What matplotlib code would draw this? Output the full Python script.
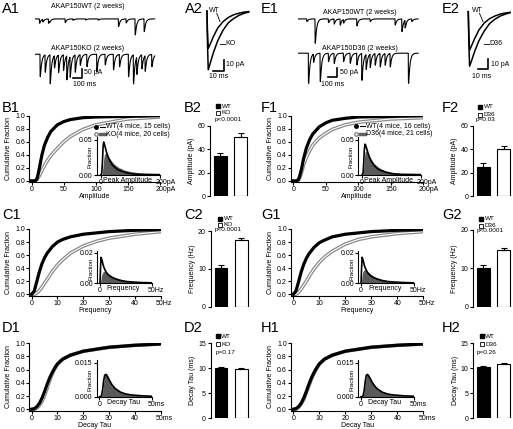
import numpy as np
import matplotlib
matplotlib.use("Agg")
import matplotlib.pyplot as plt
from matplotlib.transforms import ScaledTranslation

plt.rcParams["font.family"] = ["Liberation Sans", "DejaVu Sans"]
plt.rcParams["font.size"] = 5
plt.rcParams["axes.linewidth"] = 0.8

# ---------------- data ----------------
# A1 / E1 example sweeps: (event time ms, amplitude pA)
a1_wt_events = [(48, 25), (85, 15), (148, 25), (160, 8), (333, 21), (420, 8), (560, 6), (700, 7),
                (925, 44), (1010, 23), (1110, 92), (1210, 73)]
a1_ko_events = [(55, 129), (111, 100), (166, 167), (214, 71), (259, 100), (314, 90), (351, 138),
                (388, 119), (444, 100), (500, 61), (574, 71), (684, 100), (777, 61), (869, 90),
                (936, 71), (1036, 129), (1091, 167), (1128, 100), (1184, 81), (1221, 90), (1295, 71)]
e1_wt_events = [(93, 15), (185, 140), (333, 21), (396, 29), (463, 35), (500, 21), (648, 40),
                (796, 15), (1073, 35), (1148, 73), (1184, 44), (1258, 15)]
e1_d36_events = [(111, 173), (167, 48), (241, 163), (333, 48), (396, 58), (500, 48), (574, 58),
                 (648, 67), (703, 154), (751, 86), (796, 77), (851, 67), (907, 77), (962, 67),
                 (1018, 77), (1221, 173)]

# A2 / E2 averaged mEPSCs (ms, pA)
avg_t = [0, 0.5, 1.2, 3, 6, 10, 15, 20, 25, 30, 35, 39]
a2_wt = [0, -20, -35, -31, -24, -16, -10, -6, -3.5, -2, -1, -0.5]
a2_ko = [0, -30, -55, -49, -39, -28, -18, -11, -7, -4, -2, -1]
e2_wt = [0, -20, -36, -32, -25, -17, -10.5, -6.5, -4, -2.2, -1.2, -0.6]
e2_d36 = [0, -28, -51, -46, -37, -27, -18, -11, -7, -4, -2.2, -1]

# cumulative distributions
amp_x = [0, 5, 8, 10, 13, 16, 20, 25, 30, 40, 50, 60, 80, 100, 150, 200]
b1_wt = [0, 0, 0.03, 0.10, 0.25, 0.40, 0.55, 0.67, 0.76, 0.86, 0.91, 0.94, 0.97, 0.98, 0.99, 1.0]
b1_ko = [0, 0, 0.02, 0.05, 0.10, 0.16, 0.24, 0.32, 0.39, 0.50, 0.60, 0.68, 0.79, 0.86, 0.95, 0.98]
f1_wt = [0, 0, 0.02, 0.08, 0.20, 0.35, 0.50, 0.63, 0.72, 0.83, 0.89, 0.93, 0.96, 0.98, 0.99, 1.0]
f1_d36 = [0, 0, 0.02, 0.05, 0.14, 0.25, 0.36, 0.46, 0.55, 0.66, 0.73, 0.79, 0.86, 0.90, 0.95, 0.97]

freq_x = [0, 1, 2, 3, 4, 5, 6, 8, 10, 12, 15, 20, 25, 30, 40, 50]
c1_wt = [0, 0.05, 0.20, 0.35, 0.47, 0.56, 0.63, 0.73, 0.80, 0.84, 0.88, 0.92, 0.94, 0.96, 0.98, 0.99]
c1_ko = [0, 0, 0.02, 0.06, 0.11, 0.17, 0.23, 0.35, 0.45, 0.53, 0.63, 0.74, 0.81, 0.86, 0.92, 0.96]
g1_wt = [0, 0.05, 0.19, 0.34, 0.46, 0.55, 0.62, 0.72, 0.79, 0.83, 0.88, 0.92, 0.94, 0.96, 0.98, 0.99]
g1_d36 = [0, 0, 0.03, 0.08, 0.14, 0.20, 0.27, 0.39, 0.49, 0.57, 0.66, 0.77, 0.84, 0.88, 0.93, 0.96]

tau_x = [0, 1, 2, 3, 4, 5, 6, 7, 8, 9, 10, 12, 15, 20, 25, 30, 40, 50]
d1_wt = [0, 0.01, 0.04, 0.09, 0.17, 0.27, 0.38, 0.48, 0.56, 0.63, 0.69, 0.76, 0.82, 0.88, 0.91, 0.94, 0.97, 0.99]
d1_ko = [0, 0, 0.02, 0.06, 0.12, 0.21, 0.32, 0.44, 0.54, 0.62, 0.68, 0.76, 0.82, 0.88, 0.91, 0.94, 0.97, 0.99]
h1_wt = [0, 0.01, 0.04, 0.09, 0.17, 0.27, 0.38, 0.48, 0.56, 0.63, 0.69, 0.76, 0.82, 0.88, 0.91, 0.94, 0.97, 0.99]
h1_d36 = [0, 0, 0.03, 0.08, 0.15, 0.25, 0.36, 0.46, 0.55, 0.62, 0.68, 0.76, 0.82, 0.88, 0.91, 0.94, 0.97, 0.99]

# inset histograms
hamp_x = [0, 2, 4, 6, 8, 10, 12, 15, 20, 25, 30, 40, 50, 60, 80, 100, 130, 160, 200]
b1_wt_h = [0, 0, 0.005, 0.02, 0.04, 0.047, 0.045, 0.04, 0.032, 0.026, 0.021, 0.014, 0.010,
           0.007, 0.004, 0.002, 0.001, 0.0008, 0.0005]
b1_ko_h = [0, 0, 0.001, 0.005, 0.013, 0.022, 0.028, 0.031, 0.030, 0.027, 0.024, 0.018, 0.014,
           0.011, 0.007, 0.005, 0.003, 0.002, 0.001]
f1_wt_h = [0, 0, 0.004, 0.018, 0.036, 0.044, 0.043, 0.039, 0.032, 0.026, 0.021, 0.014, 0.010,
           0.007, 0.004, 0.002, 0.001, 0.0008, 0.0005]
f1_d36_h = [0, 0, 0.002, 0.01, 0.022, 0.031, 0.034, 0.034, 0.031, 0.027, 0.023, 0.017, 0.013,
            0.010, 0.006, 0.004, 0.002, 0.0015, 0.001]

hfreq_x = [0, 0.5, 1, 1.5, 2, 3, 4, 5, 6, 8, 10, 12, 15, 20, 25, 30, 40, 50]
c1_wt_h = [0, 0.010, 0.017, 0.016, 0.015, 0.012, 0.010, 0.0085, 0.0072, 0.0055, 0.0045, 0.0037,
           0.0028, 0.0018, 0.0012, 0.0009, 0.0005, 0.0003]
c1_ko_h = [0, 0.001, 0.003, 0.005, 0.006, 0.0075, 0.0078, 0.0076, 0.0072, 0.0063, 0.0054, 0.0046,
           0.0037, 0.0026, 0.0018, 0.0013, 0.0008, 0.0005]
g1_wt_h = [0, 0.010, 0.017, 0.016, 0.015, 0.012, 0.010, 0.0085, 0.0072, 0.0055, 0.0045, 0.0037,
           0.0028, 0.0018, 0.0012, 0.0009, 0.0005, 0.0003]
g1_d36_h = [0, 0.002, 0.005, 0.007, 0.008, 0.0088, 0.0088, 0.0084, 0.0078, 0.0066, 0.0055, 0.0046,
            0.0036, 0.0024, 0.0016, 0.0011, 0.0006, 0.0004]

htau_x = [0, 1, 2, 3, 4, 5, 6, 7, 8, 10, 12, 15, 20, 25, 30, 40, 50]
d1_wt_h = [0, 0, 0.0005, 0.003, 0.007, 0.0095, 0.0098, 0.0093, 0.0085, 0.0068, 0.0052, 0.0036,
           0.002, 0.0012, 0.0008, 0.0004, 0.0002]
d1_ko_h = [0, 0, 0.0003, 0.002, 0.006, 0.0095, 0.0105, 0.0102, 0.0093, 0.0072, 0.0055, 0.0037,
           0.0021, 0.0013, 0.0008, 0.0004, 0.0002]
h1_wt_h = d1_wt_h
h1_d36_h = [0, 0, 0.0004, 0.0025, 0.0065, 0.0095, 0.0102, 0.0098, 0.009, 0.007, 0.0054, 0.0037,
            0.0021, 0.0013, 0.0008, 0.0004, 0.0002]

# bar graphs: (WT, mutant) means and SEM
b2_mean, b2_sem = [34.5, 51], [2.5, 2.7]
c2_mean, c2_sem = [10.3, 17.6], [0.7, 0.5]
d2_mean, d2_sem = [10.1, 9.8], [0.2, 0.2]
f2_mean, f2_sem = [25, 40], [3, 3]
g2_mean, g2_sem = [10.0, 14.8], [0.9, 0.6]
h2_mean, h2_sem = [10.3, 10.8], [0.2, 0.3]

# ---------------- figure ----------------
W, H = 513, 429
fig = plt.figure(figsize=(W / 100, H / 100), dpi=100)


def box(l, t, r, b):
    return fig.add_axes([l / W, 1 - b / H, (r - l) / W, (b - t) / H])


def sweep(events, base):
    t = np.arange(0, 1330, 0.5)
    s = np.arange(0, 150, 0.5)
    k = (1 - np.exp(-s / 1.5)) * np.exp(-s / 15)
    k = k / k.max()
    y = np.full_like(t, base, dtype=float)
    for t0, a in events:
        i = int(t0 / 0.5)
        n = min(len(k), len(t) - i)
        y[i:i + n] -= a * k[:n]
    return t, y


def trace_panel(rect, wt_ev, mut_ev, mut_base, bar_t, bar_top):
    ax = box(*rect)
    for ev, base in [(wt_ev, 0), (mut_ev, mut_base)]:
        t, y = sweep(ev, base)
        ax.plot(t, y, color="black", lw=0.8)
    ax.plot([bar_t - 100, bar_t, bar_t], [bar_top - 50, bar_top - 50, bar_top], color="black", lw=1.2)
    ax.set_xlim(0, 1388)
    ax.set_ylim(-466, 80)
    ax.axis("off")


def avg_panel(rect, xlim, ylim, wt, mut, bar_t, bar_top):
    ax = box(*rect)
    ax.plot(avg_t, wt, color="black", lw=1.1)
    ax.plot(avg_t, mut, color="black", lw=1.1)
    ax.plot([bar_t - 10, bar_t, bar_t], [bar_top - 10, bar_top - 10, bar_top], color="black", lw=1.2)
    ax.set_xlim(*xlim)
    ax.set_ylim(*ylim)
    ax.axis("off")


def shift_last(ax, px):
    lbl = ax.get_xticklabels()[-1]
    lbl.set_horizontalalignment("left")
    lbl.set_transform(lbl.get_transform() + ScaledTranslation(-px / 100, 0, fig.dpi_scale_trans))


def style(ax, ticklen=2):
    ax.spines["top"].set_visible(False)
    ax.spines["right"].set_visible(False)
    ax.tick_params(length=ticklen, width=0.8, pad=1, labelsize=5)


def cdf_panel(rect, xlim, ticks, labels, x, wt, mut, xlabel):
    ax = box(*rect)
    ax.plot(x, mut, color="#8a8a8a", lw=2.6)
    ax.plot(x, mut, color="white", lw=0.8)
    ax.plot(x, wt, color="black", lw=2.3)
    ax.set_xlim(*xlim)
    ax.set_ylim(-0.02, 1.0)
    ax.set_xticks(ticks)
    ax.set_xticklabels(labels)
    ax.set_yticks([0, 0.2, 0.4, 0.6, 0.8, 1.0])
    ax.set_yticklabels(["0.0", "0.2", "0.4", "0.6", "0.8", "1.0"])
    ax.set_ylabel("Cumulative Fraction", fontsize=5, labelpad=2)
    ax.set_xlabel(xlabel, fontsize=5, labelpad=0)
    style(ax)
    shift_last(ax, 4.5)
    return ax


def inset_panel(rect, xlim, ylim, yticks, ylabels, xlabels, x, wt, mut, name):
    ax = box(*rect)
    ax.fill_between(x, mut, color="#5a5a5a", lw=0)
    ax.plot(x, wt, color="black", lw=1.2)
    ax.set_xlim(*xlim)
    ax.set_ylim(*ylim)
    ax.set_xticks([0, x[-1]])
    ax.set_xticklabels(xlabels)
    ax.set_yticks(yticks)
    ax.set_yticklabels(ylabels)
    ax.set_ylabel("Fraction", fontsize=4.5, labelpad=-8)
    ax.yaxis.set_label_coords(-0.07, 0.46)
    ax.text(0.48, -0.06, name, transform=ax.transAxes, ha="center", va="top", fontsize=5)
    ax.patch.set_alpha(0)
    style(ax, ticklen=2)
    shift_last(ax, 4)


def bar_panel(rect, mean, sem, ymax, yticks, ylabel):
    ax = box(*rect)
    pos = [0.77, 2.3]
    ax.bar(pos, mean, width=0.95, color=["black", "white"], edgecolor="black", lw=0.8)
    ax.errorbar(pos, mean, yerr=[[0, 0], sem], fmt="none", ecolor="black",
                elinewidth=0.8, capsize=2, capthick=0.8)
    ax.set_xlim(0, 3)
    ax.set_ylim(0, ymax)
    ax.set_yticks(yticks)
    ax.set_xticks([])
    ax.spines["bottom"].set_visible(False)
    ax.set_ylabel(ylabel, fontsize=5, labelpad=1.5)
    style(ax, ticklen=2.5)


# A1, E1 sweeps
trace_panel((35, 5, 160, 100), a1_wt_events, a1_ko_events, -203, 518, -288)
trace_panel((298.3, 5, 423.3, 100), e1_wt_events, e1_d36_events, -197, 433, -283)

# A2, E2 averages
avg_panel((200, 3, 252, 82), (-6.5, 42.1), (-66.4, 7.5), a2_wt, a2_ko, 15.9, -45.8)
avg_panel((461, 3, 513, 82), (-6.8, 41.8), (-65.7, 8.1), e2_wt, e2_d36, 18.7, -44)

# cumulative panels
amp_ticks, amp_lbl = [0, 50, 100, 150, 200], ["0", "50", "100", "150", "200pA"]
hz_ticks, hz_lbl = [0, 10, 20, 30, 40, 50], ["0", "10", "20", "30", "40", "50Hz"]
ms_lbl = ["0", "10", "20", "30", "40", "50ms"]

cdf_panel((29.3, 115.7, 160, 182.3), (-3.7, 200), amp_ticks, amp_lbl, amp_x, b1_wt, b1_ko, "Amplitude")
cdf_panel((29.3, 229, 160.7, 295.6), (-0.93, 50), hz_ticks, hz_lbl, freq_x, c1_wt, c1_ko, "Frequency")
cdf_panel((29.3, 343.3, 160.7, 410.6), (-0.93, 50), hz_ticks, ms_lbl, tau_x, d1_wt, d1_ko, "Decay Tau")
cdf_panel((291, 115.7, 423.3, 182.3), (-3.5, 200), amp_ticks, amp_lbl, amp_x, f1_wt, f1_d36, "Amplitude")
cdf_panel((291, 229, 423.3, 295.6), (-0.9, 50), hz_ticks, hz_lbl, freq_x, g1_wt, g1_d36, "Frequency")
cdf_panel((291, 343.3, 423.3, 410.6), (-0.9, 50), hz_ticks, ms_lbl, tau_x, h1_wt, h1_d36, "Decay Tau")

# insets
inset_panel((96.7, 136.5, 160, 175), (-13.5, 200), (0, 0.055), [0, 0.05], ["0.00", "0.05"],
            ["0", "200pA"], hamp_x, b1_wt_h, b1_ko_h, "Peak Amplitude")
inset_panel((97.3, 251.2, 152, 283.3), (-2.6, 50), (0, 0.021), [0, 0.02], ["0.00", "0.02"],
            ["0", "50Hz"], hfreq_x, c1_wt_h, c1_ko_h, "Frequency")
inset_panel((96.7, 360.4, 152, 396.7), (-2.6, 50), (0, 0.016), [0, 0.015], ["0.000", "0.015"],
            ["0", "50ms"], htau_x, d1_wt_h, d1_ko_h, "Decay Tau")
inset_panel((358.3, 136.5, 421, 175), (-12.5, 200), (0, 0.055), [0, 0.05], ["0.00", "0.05"],
            ["0", "200pA"], hamp_x, f1_wt_h, f1_d36_h, "Peak Amplitude")
inset_panel((358.3, 251.2, 414, 283.3), (-2.6, 50), (0, 0.021), [0, 0.02], ["0.00", "0.02"],
            ["0", "50Hz"], hfreq_x, g1_wt_h, g1_d36_h, "Frequency")
inset_panel((358.3, 360.4, 414, 396.7), (-2.6, 50), (0, 0.016), [0, 0.015], ["0.000", "0.015"],
            ["0", "50ms"], htau_x, h1_wt_h, h1_d36_h, "Decay Tau")

# bar panels
bar_panel((210, 126, 250, 196), b2_mean, b2_sem, 60, [0, 20, 40, 60], "Amplitude (pA)")
bar_panel((210.7, 231, 250.7, 306.7), c2_mean, c2_sem, 20, [0, 10, 20], "Frequency (Hz)")
bar_panel((210.7, 343.3, 250.7, 418.3), d2_mean, d2_sem, 15, [0, 5, 10, 15], "Decay Tau (ms)")
bar_panel((473.3, 126, 513, 196), f2_mean, f2_sem, 60, [0, 20, 40, 60], "Amplitude (pA)")
bar_panel((473.3, 230, 513, 306.7), g2_mean, g2_sem, 20, [0, 10, 20], "Frequency (Hz)")
bar_panel((473.3, 343.3, 513, 418.3), h2_mean, h2_sem, 15, [0, 5, 10, 15], "Decay Tau (ms)")

# ---------------- text overlay (pixel coordinates) ----------------
ov = fig.add_axes([0, 0, 1, 1], zorder=10)
ov.set_xlim(0, W)
ov.set_ylim(H, 0)
ov.axis("off")

panel_labels = [("A1", 2, 13), ("A2", 185, 13), ("E1", 261, 13), ("E2", 442, 13),
                ("B1", 2, 111.5), ("B2", 184, 111.5), ("F1", 261, 111.5), ("F2", 442, 111.5),
                ("C1", 2, 219), ("C2", 184, 219), ("G1", 261, 219), ("G2", 442, 219),
                ("D1", 2, 332), ("D2", 184, 332), ("H1", 261, 332), ("H2", 442, 332)]
for s, x, y in panel_labels:
    ov.text(x, y, s, fontsize=10.5, va="baseline", ha="left")

# sweep titles and scale labels
ov.text(88, 7, "AKAP150WT (2 weeks)", ha="center", va="center", fontsize=5)
ov.text(88, 48, "AKAP150KO (2 weeks)", ha="center", va="center", fontsize=5)
ov.text(84, 73, "50 pA", ha="left", va="center", fontsize=5)
ov.text(73, 84, "100 ms", ha="left", va="center", fontsize=5)
ov.text(360, 13, "AKAP150WT (2 weeks)", ha="center", va="center", fontsize=5)
ov.text(360, 48, "AKAP150D36 (2 weeks)", ha="center", va="center", fontsize=5)
ov.text(340, 73, "50 pA", ha="left", va="center", fontsize=5)
ov.text(321, 85, "100 ms", ha="left", va="center", fontsize=5)

ov.text(209, 10, "WT", ha="left", va="center", fontsize=5)
ov.plot([216.7, 220], [13.3, 21.7], color="black", lw=0.6)
ov.text(225, 43.5, "KO", ha="left", va="center", fontsize=5)
ov.plot([220, 225], [43.5, 43.5], color="black", lw=0.6)
ov.text(226, 65, "10 pA", ha="left", va="center", fontsize=5)
ov.text(209, 76, "10 ms", ha="left", va="center", fontsize=5)

ov.text(472, 10, "WT", ha="left", va="center", fontsize=5)
ov.plot([479.5, 483], [13.3, 21.7], color="black", lw=0.6)
ov.text(489.5, 43.5, "D36", ha="left", va="center", fontsize=5)
ov.plot([484, 489.3], [43.5, 43.5], color="black", lw=0.6)
ov.text(491, 64, "10 pA", ha="left", va="center", fontsize=5)
ov.text(472, 76, "10 ms", ha="left", va="center", fontsize=5)

# CDF legends
for x0, y0, name in [(95.7, 126.7, "WT(4 mice, 15 cells)"), (355.7, 126, "WT(4 mice, 16 cells)")]:
    ov.plot([x0], [y0], "o", color="black", ms=2.5)
    ov.plot([x0 + 4.5, x0 + 9.5], [y0, y0], color="black", lw=0.8)
    ov.text(x0 + 10, y0, name, ha="left", va="center", fontsize=5)
for x0, y0, name in [(95.7, 134, "KO(4 mice, 20 cells)"), (355.7, 133.5, "D36(4 mice, 21 cells)")]:
    ov.plot([x0], [y0], "o", mfc="white", mec="#707070", mew=0.8, ms=2.5)
    ov.plot([x0 + 4.5, x0 + 9.5], [y0, y0], color="#606060", lw=2.5)
    ov.text(x0 + 10, y0, name, ha="left", va="center", fontsize=5)

# bar legends
bar_legends = [(218, 106, 113, 215, 119.5, "KO", "p<0.0001"),
               (220, 219, 224.5, 215, 229.5, "KO", "p<0.0001"),
               (217.5, 336, 344.3, 215.5, 352.7, "KO", "p=0.17"),
               (480, 107, 114.5, 476, 120, "D36", "p=0.03"),
               (481, 219, 225.5, 477, 230.5, "D36", "p<0.0001"),
               (481.5, 336, 344, 476.5, 352.5, "D36", "p=0.26")]
for bx, y1, y2, px, py, mut, ptxt in bar_legends:
    ov.plot([bx], [y1], "s", color="black", ms=3.2)
    ov.text(bx + 3.5, y1, "WT", ha="left", va="center", fontsize=4.6)
    ov.plot([bx], [y2], "s", mfc="white", mec="black", mew=0.6, ms=3.2)
    ov.text(bx + 3.5, y2, mut, ha="left", va="center", fontsize=4.6)
    ov.text(px, py, ptxt, ha="left", va="center", fontsize=4.6)

fig.savefig("out.png", dpi=100)
